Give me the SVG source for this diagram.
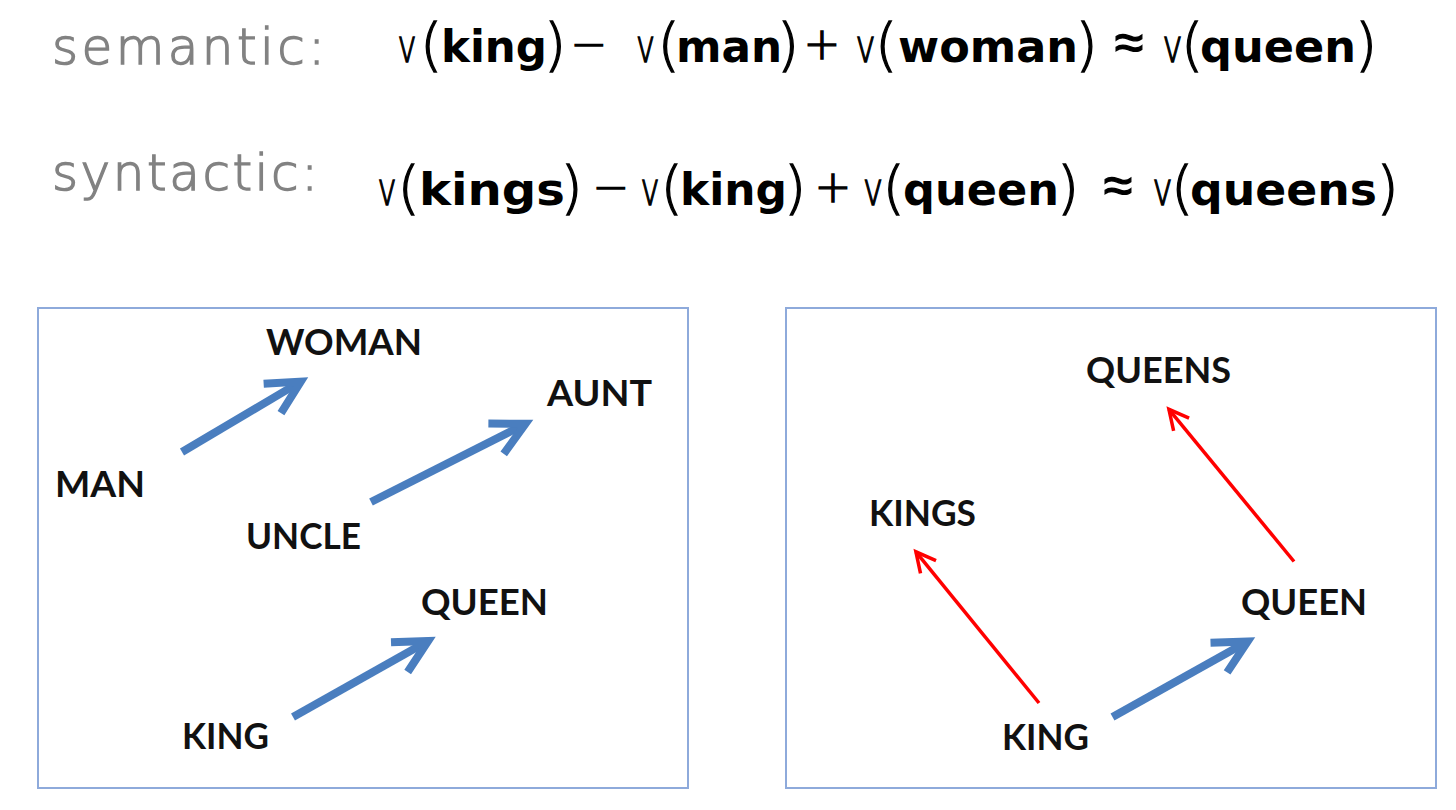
<svg xmlns="http://www.w3.org/2000/svg" width="1456" height="810" viewBox="0 0 1456 810">
  <style>
    .cap { font-family: "DejaVu Sans", "Liberation Sans", sans-serif; font-weight: 200; font-size: 50px; fill: #828282; stroke: #828282; stroke-width: 1.4; }
    .eq { font-family: "DejaVu Sans", "Liberation Sans", sans-serif; fill: #000; }
    .vv { font-weight: 200; font-size: 46px; stroke: #000; stroke-width: 1.4; }
    .par { font-weight: 200; font-size: 57px; stroke: #000; stroke-width: 1.3; }
    .w { font-weight: bold; font-size: 44px; stroke: none; }
    .op { font-family: "DejaVu Sans", "Liberation Sans", sans-serif; font-weight: 200; font-size: 44px; fill: #000; stroke: #000; stroke-width: 1.3; text-anchor: middle; }
    .apx { font-size: 52px; }
    .lbl { font-family: Lato, "Liberation Sans", sans-serif; font-weight: bold; font-size: 37px; fill: #111; }
    .box { fill: #fff; stroke: #8eaadb; stroke-width: 2; }
    .blue { fill: none; stroke: #4a7ebf; stroke-width: 8; stroke-linecap: butt; }
    .red { fill: none; stroke: #ff0000; stroke-width: 3.5; stroke-linecap: butt; }
  </style>
  <defs>
    <marker id="headBlue" markerUnits="userSpaceOnUse" orient="auto" refX="0" refY="0" markerWidth="60" markerHeight="60" overflow="visible">
      <path d="M -33 -17 L 0 0 L -33 17" fill="none" stroke="#4a7ebf" stroke-width="8" stroke-linejoin="miter"/>
    </marker>
    <marker id="headRed" markerUnits="userSpaceOnUse" orient="auto" refX="0" refY="0" markerWidth="40" markerHeight="40" overflow="visible">
      <path d="M -19.6 -10 L 0 0 L -19.6 10" fill="none" stroke="#ff0000" stroke-width="3.5" stroke-linejoin="miter"/>
    </marker>
  </defs>
  <rect width="1456" height="810" fill="#fff"/>

  <g id="semantic-line">
    <text class="cap" x="52" y="64" textLength="273" lengthAdjust="spacing">semantic:</text>
    <text class="eq" y="62"><tspan class="vv" x="397.5" textLength="19" lengthAdjust="spacingAndGlyphs">v</tspan><tspan class="par" x="420" y="64">(</tspan><tspan class="w" x="441" y="62" textLength="106" lengthAdjust="spacingAndGlyphs">king</tspan><tspan class="par" x="544" y="64">)</tspan></text>
    <text class="op" x="589" y="59">−</text>
    <text class="eq" y="62"><tspan class="vv" x="636" textLength="19" lengthAdjust="spacingAndGlyphs">v</tspan><tspan class="par" x="657.5" y="64">(</tspan><tspan class="w" x="676" y="62" textLength="106" lengthAdjust="spacingAndGlyphs">man</tspan><tspan class="par" x="777" y="64">)</tspan></text>
    <text class="op" x="822" y="59">+</text>
    <text class="eq" y="62"><tspan class="vv" x="855.5" textLength="20" lengthAdjust="spacingAndGlyphs">v</tspan><tspan class="par" x="875" y="64">(</tspan><tspan class="w" x="898" y="62" textLength="180" lengthAdjust="spacingAndGlyphs">woman</tspan><tspan class="par" x="1075.5" y="64">)</tspan></text>
    <text class="op apx" x="1129" y="60">≈</text>
    <text class="eq" y="62"><tspan class="vv" x="1162.5" textLength="20" lengthAdjust="spacingAndGlyphs">v</tspan><tspan class="par" x="1181" y="64">(</tspan><tspan class="w" x="1200" y="62" textLength="156" lengthAdjust="spacingAndGlyphs">queen</tspan><tspan class="par" x="1355" y="64">)</tspan></text>
  </g>

  <g id="syntactic-line">
    <text class="cap" x="52" y="190" textLength="266" lengthAdjust="spacing">syntactic:</text>
    <text class="eq" y="205"><tspan class="vv" x="377.5" textLength="19" lengthAdjust="spacingAndGlyphs">v</tspan><tspan class="par" x="397.5" y="207">(</tspan><tspan class="w" x="419" y="205" textLength="146" lengthAdjust="spacingAndGlyphs">kings</tspan><tspan class="par" x="560.5" y="207">)</tspan></text>
    <text class="op" x="611" y="202">−</text>
    <text class="eq" y="205"><tspan class="vv" x="640.5" textLength="19" lengthAdjust="spacingAndGlyphs">v</tspan><tspan class="par" x="660.5" y="207">(</tspan><tspan class="w" x="680" y="205" textLength="107" lengthAdjust="spacingAndGlyphs">king</tspan><tspan class="par" x="784" y="207">)</tspan></text>
    <text class="op" x="833" y="202">+</text>
    <text class="eq" y="205"><tspan class="vv" x="863" textLength="20" lengthAdjust="spacingAndGlyphs">v</tspan><tspan class="par" x="882.5" y="207">(</tspan><tspan class="w" x="903" y="205" textLength="156" lengthAdjust="spacingAndGlyphs">queen</tspan><tspan class="par" x="1057" y="207">)</tspan></text>
    <text class="op apx" x="1118" y="203">≈</text>
    <text class="eq" y="205"><tspan class="vv" x="1152.5" textLength="20" lengthAdjust="spacingAndGlyphs">v</tspan><tspan class="par" x="1171" y="207">(</tspan><tspan class="w" x="1190" y="205" textLength="187" lengthAdjust="spacingAndGlyphs">queens</tspan><tspan class="par" x="1376.5" y="207">)</tspan></text>
  </g>

  <g id="panel-semantic">
    <rect class="box" x="38" y="308" width="650" height="480"/>
  </g>
  <g id="panel-syntactic">
    <rect class="box" x="786" y="308" width="650" height="480"/>
  </g>

  <g id="node-woman"><text class="lbl" x="266" y="355" textLength="156" lengthAdjust="spacingAndGlyphs">WOMAN</text></g>
  <g id="node-aunt"><text class="lbl" x="547" y="406" textLength="105" lengthAdjust="spacingAndGlyphs">AUNT</text></g>
  <g id="node-man"><text class="lbl" x="55" y="497" textLength="90" lengthAdjust="spacingAndGlyphs">MAN</text></g>
  <g id="node-uncle"><text class="lbl" x="246" y="548.5" textLength="115" lengthAdjust="spacingAndGlyphs">UNCLE</text></g>
  <g id="node-queen-left"><text class="lbl" x="421" y="615" textLength="127" lengthAdjust="spacingAndGlyphs">QUEEN</text></g>
  <g id="node-king-left"><text class="lbl" x="182" y="749" textLength="87" lengthAdjust="spacingAndGlyphs">KING</text></g>

  <g id="node-queens"><text class="lbl" x="1086" y="383" textLength="145" lengthAdjust="spacingAndGlyphs">QUEENS</text></g>
  <g id="node-kings"><text class="lbl" x="869" y="526" textLength="107" lengthAdjust="spacingAndGlyphs">KINGS</text></g>
  <g id="node-queen-right"><text class="lbl" x="1241" y="615" textLength="126" lengthAdjust="spacingAndGlyphs">QUEEN</text></g>
  <g id="node-king-right"><text class="lbl" x="1002" y="749.5" textLength="87" lengthAdjust="spacingAndGlyphs">KING</text></g>

  <g id="connectors">
    <path class="blue" d="M 182 452 L 300.7 381.6" marker-end="url(#headBlue)"/>
    <path class="blue" d="M 371 502 L 525.5 423.8" marker-end="url(#headBlue)"/>
    <path class="blue" d="M 293 717 L 428.1 641" marker-end="url(#headBlue)"/>
    <path class="blue" d="M 1112.5 717 L 1247.6 641.4" marker-end="url(#headBlue)"/>
    <path class="red" d="M 1039 703 L 915.9 551.8" marker-end="url(#headRed)"/>
    <path class="red" d="M 1294 561.5 L 1168.9 409.3" marker-end="url(#headRed)"/>
  </g>
</svg>
